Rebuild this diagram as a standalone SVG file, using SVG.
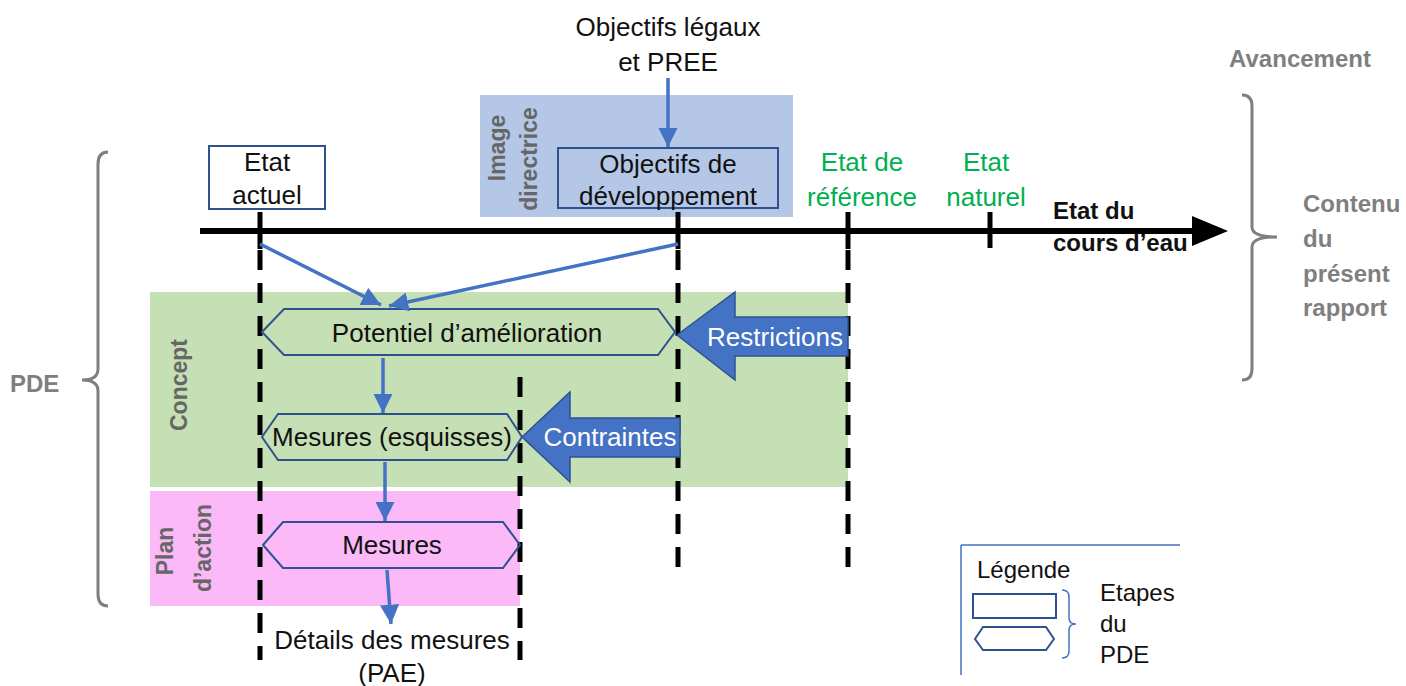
<svg xmlns="http://www.w3.org/2000/svg" width="1406" height="686" viewBox="0 0 1406 686">
<style>
text{font-family:"Liberation Sans",Arial,sans-serif;font-size:26px;fill:#111}
.c{text-anchor:middle}
.g{fill:#00b050}
.gray{fill:#7f7f7f;font-weight:bold;font-size:24px}
.vl{fill:#666;font-weight:bold;font-size:23px;text-anchor:middle}
.w{fill:#fff;text-anchor:middle}
.box{fill:none;stroke:#2f528f;stroke-width:2}
.dash{stroke:#000;stroke-width:5;stroke-dasharray:20 13;fill:none}
.tick{stroke:#000;stroke-width:5}
.conn{stroke:#4472c4;stroke-width:3.5;fill:none}
.brace{fill:none;stroke:#7f7f7f;stroke-width:3}
.blk{fill:#4472c4;stroke:#2f528f;stroke-width:1.5}
</style>
<defs>
<marker id="ah" viewBox="0 0 10 10" refX="10" refY="5" markerWidth="5.5" markerHeight="5.5" orient="auto" markerUnits="strokeWidth">
<path d="M0,0 L10,5 L0,10 z" fill="#4472c4"/>
</marker>
</defs>
<rect width="1406" height="686" fill="#fff"/>

<g id="phase-concept">
<rect x="150" y="292" width="698" height="195" fill="#c5e0b4"/>
<text class="vl" transform="translate(187,385) rotate(-90)">Concept</text>
</g>
<g id="phase-plan">
<rect x="150" y="491" width="370" height="115" fill="#fbb9f8"/>
<text class="vl" transform="translate(173,551) rotate(-90)">Plan</text>
<text class="vl" transform="translate(211,548) rotate(-90)">d’action</text>
</g>
<g id="image-directrice">
<rect x="480" y="95" width="313" height="122" fill="#b4c7e7"/>
<text class="vl" transform="translate(505,148) rotate(-90)">Image</text>
<text class="vl" transform="translate(537,159) rotate(-90)">directrice</text>
</g>

<g id="axis">
<line x1="200" y1="231" x2="1196" y2="231" stroke="#000" stroke-width="6"/>
<polygon points="1192,216 1228,231 1192,246" fill="#000"/>
<line class="tick" x1="260" y1="212" x2="260" y2="249"/>
<line class="tick" x1="678" y1="212" x2="678" y2="249"/>
<line class="tick" x1="848" y1="212" x2="848" y2="249"/>
<line class="tick" x1="990" y1="212" x2="990" y2="248"/>
<text x="1053" y="219" style="font-weight:bold;font-size:24px">Etat du</text>
<text x="1053" y="251" style="font-weight:bold;font-size:24px">cours d’eau</text>
</g>

<g id="dashed-lines">
<line class="dash" x1="260" y1="250" x2="260" y2="660"/>
<line class="dash" x1="678" y1="250" x2="678" y2="580"/>
<line class="dash" x1="848" y1="250" x2="848" y2="580"/>
<line class="dash" x1="520" y1="377" x2="520" y2="660"/>
</g>

<g id="objectifs-legaux">
<text class="c" x="668" y="36">Objectifs légaux</text>
<text class="c" x="668" y="71">et PREE</text>
</g>

<g id="etat-actuel">
<rect x="209" y="146" width="116" height="63" fill="#fff" stroke="#2f528f" stroke-width="2"/>
<text class="c" x="267" y="171">Etat</text>
<text class="c" x="267" y="204">actuel</text>
</g>

<g id="objectifs-developpement">
<rect class="box" x="558" y="148" width="220" height="60"/>
<text class="c" x="668" y="173">Objectifs de</text>
<text class="c" x="668" y="205">développement</text>
</g>

<g id="etat-reference">
<text class="c g" x="862" y="171">Etat de</text>
<text class="c g" x="862" y="206">référence</text>
</g>
<g id="etat-naturel">
<text class="c g" x="986" y="171">Etat</text>
<text class="c g" x="986" y="206">naturel</text>
</g>

<g id="potentiel">
<polygon class="box" points="262,332 284,309 658,309 675,332 658,355 284,355"/>
<text class="c" x="467" y="342">Potentiel d’amélioration</text>
</g>

<g id="mesures-esquisses">
<polygon class="box" points="262,437 278,414 507,414 522,437 507,460 278,460"/>
<text class="c" x="392" y="446">Mesures (esquisses)</text>
</g>

<g id="mesures">
<polygon class="box" points="263,545 283,522 503,522 520,545 503,568 283,568"/>
<text class="c" x="392" y="554">Mesures</text>
</g>

<g id="details">
<text class="c" x="392" y="649">Détails des mesures</text>
<text class="c" x="392" y="682">(PAE)</text>
</g>

<g id="restrictions">
<polygon class="blk" points="677,335 735,292 735,317 848,317 848,356 735,356 735,380"/>
<text class="w" x="775" y="346">Restrictions</text>
</g>

<g id="contraintes">
<polygon class="blk" points="522,437 570,392 570,418 680,418 680,457 570,457 570,482"/>
<text class="w" x="610" y="446">Contraintes</text>
</g>

<g id="connectors">
<line class="conn" x1="668" y1="78" x2="668" y2="147" marker-end="url(#ah)"/>
<line class="conn" x1="260" y1="244" x2="381" y2="305" marker-end="url(#ah)"/>
<line class="conn" x1="678" y1="244" x2="389" y2="306" marker-end="url(#ah)"/>
<line class="conn" x1="383" y1="358" x2="383" y2="413" marker-end="url(#ah)"/>
<line class="conn" x1="385" y1="462" x2="385" y2="521" marker-end="url(#ah)"/>
<line class="conn" x1="387" y1="570" x2="391" y2="624" marker-end="url(#ah)"/>
</g>

<g id="pde-brace">
<path class="brace" d="M108,152 Q98,152 98,164 L98,369 Q98,380 82,380 Q98,380 98,391 L98,594 Q98,606 108,606"/>
<text x="10" y="392" class="gray">PDE</text>
</g>

<g id="rapport-brace">
<path class="brace" d="M1242,95 Q1252,95 1252,106 L1252,227 Q1252,237 1277,237 Q1252,237 1252,247 L1252,369 Q1252,380 1242,380"/>
<text x="1300" y="67" class="gray c">Avancement</text>
<text x="1303" y="212" class="gray">Contenu</text>
<text x="1303" y="247" class="gray">du</text>
<text x="1303" y="282" class="gray">présent</text>
<text x="1303" y="316" class="gray">rapport</text>
</g>

<g id="legende">
<path d="M961,545 L961,675 M961,545 L1180,545" stroke="#4472c4" stroke-width="1.5" fill="none"/>
<text x="977" y="578" style="font-size:24px">Légende</text>
<rect x="973" y="594" width="83" height="24" fill="none" stroke="#2f528f" stroke-width="2"/>
<polygon points="975,639 983,627 1046,627 1054,639 1046,650 983,650" fill="none" stroke="#2f528f" stroke-width="2"/>
<path d="M1062,590 Q1069,590 1069,597 L1069,618 Q1069,624 1076,624 Q1069,624 1069,630 L1069,651 Q1069,658 1062,658" fill="none" stroke="#4472c4" stroke-width="1.5"/>
<text x="1100" y="601" style="font-size:24px">Etapes</text>
<text x="1100" y="632" style="font-size:24px">du</text>
<text x="1100" y="663" style="font-size:24px">PDE</text>
</g>
</svg>
